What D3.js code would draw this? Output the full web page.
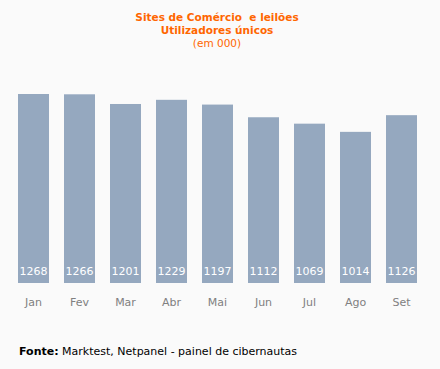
<!DOCTYPE html>
<html><head><meta charset="utf-8">
<script src="https://cdn.jsdelivr.net/npm/d3@7"></script>
<style>
html,body{margin:0;padding:0;background:#fafafa;}
svg{display:block;}
text{font-family:"DejaVu Sans",Verdana,sans-serif;}
</style></head>
<body>
<script>
const months = ["Jan","Fev","Mar","Abr","Mai","Jun","Jul","Ago","Set"];
const users = [1268,1266,1201,1229,1197,1112,1069,1014,1126];
const titleLines = ["Sites de Comércio  e leilões","Utilizadores únicos","(em 000)"];

const W=440,H=369;
const svg=d3.select("body").append("svg").attr("width",W).attr("height",H);
svg.append("rect").attr("width",W).attr("height",H).attr("fill","#fafafa");

const x=d3.scaleBand().domain(months).range([10.5,424.5]).paddingInner(0.326).paddingOuter(0.163);
const y=d3.scaleLinear().domain([0,1268]).range([283,94]);

const orange="#ff6600";
svg.append("text").attr("x",217).attr("y",21).attr("text-anchor","middle")
  .attr("fill",orange).attr("font-weight","bold").attr("font-size",10.5)
  .style("white-space","pre").text(titleLines[0]);
svg.append("text").attr("x",217).attr("y",34).attr("text-anchor","middle")
  .attr("fill",orange).attr("font-weight","bold").attr("font-size",10.5).text(titleLines[1]);
svg.append("text").attr("x",217).attr("y",47).attr("text-anchor","middle")
  .attr("fill",orange).attr("font-size",10.5).text(titleLines[2]);

svg.selectAll("rect.bar").data(users).join("rect").attr("class","bar")
  .attr("x",(d,i)=>x(months[i])).attr("width",x.bandwidth())
  .attr("y",d=>y(d)).attr("height",d=>y(0)-y(d)).attr("fill","#95a8bf");

svg.selectAll("text.val").data(users).join("text").attr("class","val")
  .attr("x",(d,i)=>x(months[i])+x.bandwidth()/2).attr("y",275)
  .attr("text-anchor","middle").attr("fill","#ffffff").attr("font-size",11).text(d=>d);

const ax=svg.append("g").attr("transform","translate(0,283)").call(d3.axisBottom(x).tickSize(0).tickPadding(0));
ax.select(".domain").remove();
ax.selectAll("text").attr("y",23).attr("dy",null).attr("fill","#808080").attr("font-size",11)
  .attr("font-family","'DejaVu Sans',Verdana,sans-serif");

const src=svg.append("text").attr("x",19).attr("y",355).attr("font-size",11).attr("fill","#000");
src.append("tspan").attr("font-weight","bold").text("Fonte:");
src.append("tspan").text(" Marktest, Netpanel - painel de cibernautas");
</script>
</body></html>
